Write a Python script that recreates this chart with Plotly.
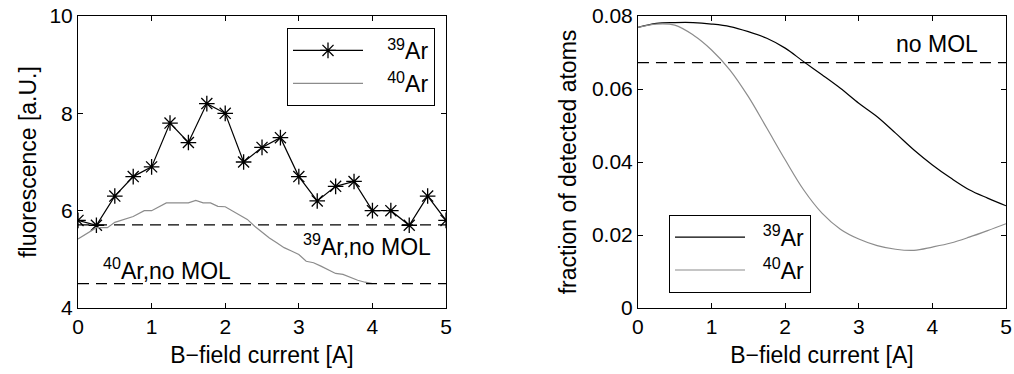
import plotly.graph_objects as go

# ---- data ----
x_meas = [0, 0.25, 0.5, 0.75, 1.0, 1.25, 1.5, 1.75, 2.0, 2.25, 2.5, 2.75, 3.0, 3.25, 3.5, 3.75, 4.0, 4.25, 4.5, 4.75, 5.0]
fl_39 = [5.8, 5.7, 6.3, 6.7, 6.9, 7.8, 7.4, 8.2, 8.0, 7.0, 7.3, 7.5, 6.7, 6.2, 6.5, 6.6, 6.0, 6.0, 5.7, 6.3, 5.8]

x_40 = [0, 0.25, 0.4, 0.5, 0.75, 0.9, 1.0, 1.1, 1.2, 1.4, 1.5, 1.6, 1.7, 1.8, 1.9, 2.0, 2.1, 2.2, 2.3, 2.4, 2.5,
        2.6, 2.7, 2.8, 2.9, 3.0, 3.1, 3.2, 3.3, 3.4, 3.5, 3.6, 3.7, 3.8, 3.9, 4.0]
fl_40 = [5.42, 5.65, 5.65, 5.76, 5.88, 6.0, 6.0, 6.08, 6.16, 6.16, 6.16, 6.21, 6.16, 6.16, 6.09, 6.08, 5.99, 5.9, 5.82, 5.68, 5.56,
         5.44, 5.34, 5.24, 5.17, 5.1, 4.96, 4.93, 4.86, 4.79, 4.71, 4.69, 4.63, 4.57, 4.53, 4.5]

nomol_39 = 5.71
nomol_40 = 4.5

x_sim = [0, 0.25, 0.5, 0.75, 1.0, 1.25, 1.5, 1.75, 2.0, 2.25, 2.5, 2.75, 3.0, 3.25, 3.5, 3.75, 4.0, 4.25, 4.5, 4.75, 5.0]
frac_39 = [0.0769, 0.0780, 0.0782, 0.0782, 0.0778, 0.0771, 0.0757, 0.0739, 0.0712, 0.0675, 0.0639, 0.0602, 0.0561,
           0.0524, 0.0479, 0.0433, 0.0392, 0.0356, 0.0324, 0.0301, 0.0280]
frac_40 = [0.0769, 0.0778, 0.0775, 0.0748, 0.0707, 0.0652, 0.0579, 0.0493, 0.0406, 0.0324, 0.0260, 0.0216, 0.0189,
           0.0171, 0.0161, 0.0158, 0.0167, 0.0178, 0.0194, 0.0212, 0.0231]
nomol_frac = 0.0672

x_range = [0, 5]
x_ticks = [0, 1, 2, 3, 4, 5]
left_ticks = [4, 6, 8, 10]
right_ticks = [0, 0.02, 0.04, 0.06, 0.08]
right_ticklabels = ["0", "0.02", "0.04", "0.06", "0.08"]

GRAY = "rgb(140,140,140)"
FONT = "Liberation Sans, Arial, sans-serif"
NB = "\u00a0"

fig = go.Figure()

# left panel
fig.add_trace(go.Scatter(x=x_meas, y=fl_39, mode="lines+markers", name=NB * 3 + "<sup>39</sup>Ar",
                         line=dict(color="black", width=1.2),
                         marker=dict(symbol="asterisk-open", size=13, line=dict(color="black", width=1.3)),
                         xaxis="x", yaxis="y", legend="legend"))
fig.add_trace(go.Scatter(x=x_40, y=fl_40, mode="lines", name=NB * 3 + "<sup>40</sup>Ar",
                         line=dict(color=GRAY, width=1.2), xaxis="x", yaxis="y", legend="legend"))
fig.add_trace(go.Scatter(x=x_range, y=[nomol_39, nomol_39], mode="lines", showlegend=False,
                         line=dict(color="black", width=1.2, dash="11px,7px"), xaxis="x", yaxis="y"))
fig.add_trace(go.Scatter(x=x_range, y=[nomol_40, nomol_40], mode="lines", showlegend=False,
                         line=dict(color="black", width=1.2, dash="11px,7px"), xaxis="x", yaxis="y"))

# right panel
fig.add_trace(go.Scatter(x=x_sim, y=frac_39, mode="lines", name=NB * 2 + "<sup>39</sup>Ar",
                         line=dict(color="black", width=1.2, shape="spline"), xaxis="x2", yaxis="y2", legend="legend2"))
fig.add_trace(go.Scatter(x=x_sim, y=frac_40, mode="lines", name=NB * 2 + "<sup>40</sup>Ar",
                         line=dict(color=GRAY, width=1.2, shape="spline"), xaxis="x2", yaxis="y2", legend="legend2"))
fig.add_trace(go.Scatter(x=x_range, y=[nomol_frac, nomol_frac], mode="lines", showlegend=False,
                         line=dict(color="black", width=1.2, dash="11px,7px"), xaxis="x2", yaxis="y2"))

axis_common = dict(showline=True, linecolor="black", linewidth=1, mirror="allticks", ticks="inside",
                   ticklen=5, tickcolor="black", showgrid=False, zeroline=False, automargin=False,
                   tickfont=dict(size=21, color="black", family=FONT))

fig.update_layout(
    width=1014, height=374,
    margin=dict(l=78, r=8, t=16, b=65.5),
    paper_bgcolor="white", plot_bgcolor="white",
    font=dict(family=FONT, color="black", size=21),
    xaxis=dict(domain=[0, 0.3966], range=x_range, tickvals=x_ticks, anchor="y",
               title=dict(text="B\u2212field current [A]", font=dict(size=23), standoff=9), **axis_common),
    yaxis=dict(domain=[0, 1], range=[4, 10], tickvals=left_ticks, anchor="x",
               title=dict(text="fluorescence [a.U.]", font=dict(size=23), standoff=6), **axis_common),
    xaxis2=dict(domain=[0.6034, 1], range=x_range, tickvals=x_ticks, anchor="y2",
                title=dict(text="B\u2212field current [A]", font=dict(size=23), standoff=9), **axis_common),
    yaxis2=dict(domain=[0, 1], range=[0, 0.08], tickvals=right_ticks, ticktext=right_ticklabels, anchor="x2",
                title=dict(text="fraction of detected atoms", font=dict(size=23), standoff=8), **axis_common),
    legend=dict(x=0.3847, y=0.959, xanchor="right", yanchor="top", bgcolor="white", itemwidth=70,
                bordercolor="black", borderwidth=1, font=dict(size=23, family=FONT)),
    legend2=dict(x=0.7899, y=0.3197, xanchor="right", yanchor="top", bgcolor="white", itemwidth=70,
                 bordercolor="black", borderwidth=1, font=dict(size=23, family=FONT)),
    showlegend=True,
)

fig.add_annotation(x=3.93, y=5.30, xref="x", yref="y", text="<sup>39</sup>Ar,no MOL",
                   showarrow=False, font=dict(size=23, family=FONT))
fig.add_annotation(x=1.21, y=4.80, xref="x", yref="y", text="<sup>40</sup>Ar,no MOL",
                   showarrow=False, font=dict(size=23, family=FONT))
fig.add_annotation(x=4.06, y=0.0722, xref="x2", yref="y2", text="no MOL",
                   showarrow=False, font=dict(size=23, family=FONT))

fig.write_html("out.html", config={"displayModeBar": False},
               post_script="document.body.style.margin='0';document.body.style.overflow='hidden';")
